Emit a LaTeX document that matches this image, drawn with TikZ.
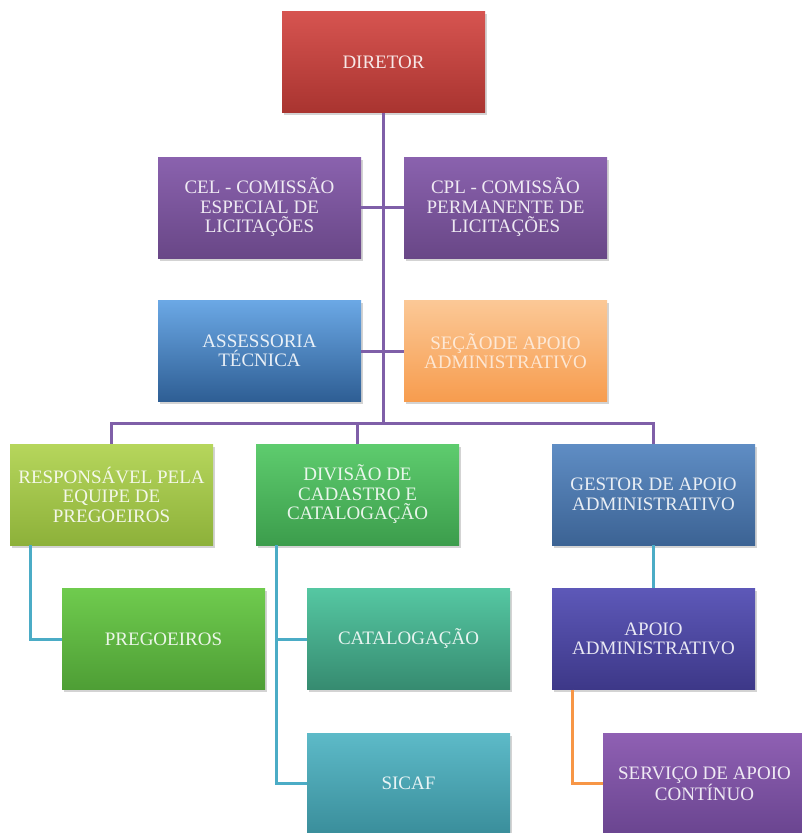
\documentclass[tikz,border=0pt]{standalone}
\usepackage{fontspec}
\setmainfont{Liberation Serif}
\usetikzlibrary{shadows}

\definecolor{linharoxa}{HTML}{7F5FA8}
\definecolor{linhaazul}{HTML}{4BACC6}
\definecolor{linhalaranja}{HTML}{F79646}
% cores das caixas (cima / baixo)
\definecolor{dirA}{HTML}{D65450}   \definecolor{dirB}{HTML}{A93430}
\definecolor{roxoA}{HTML}{8A62AE}  \definecolor{roxoB}{HTML}{694787}
\definecolor{asseA}{HTML}{6BA8E5}  \definecolor{asseB}{HTML}{2E5E94}
\definecolor{secA}{HTML}{FBC896}   \definecolor{secB}{HTML}{F79C4E}
\definecolor{respA}{HTML}{B6D65C}  \definecolor{respB}{HTML}{8DB13A}
\definecolor{divA}{HTML}{5ECC6E}   \definecolor{divB}{HTML}{3C9D4C}
\definecolor{gestA}{HTML}{5F8DC4}  \definecolor{gestB}{HTML}{3C6394}
\definecolor{pregA}{HTML}{6FCB4E}  \definecolor{pregB}{HTML}{4E9E35}
\definecolor{catA}{HTML}{55C7A2}   \definecolor{catB}{HTML}{368B70}
\definecolor{apoA}{HTML}{5D58B8}   \definecolor{apoB}{HTML}{3D3888}
\definecolor{sicA}{HTML}{5DBAC8}   \definecolor{sicB}{HTML}{3A8E9B}
\definecolor{servA}{HTML}{8F60B3}  \definecolor{servB}{HTML}{6A4590}

\tikzstyle{cargo}=[rectangle, minimum width=203pt, minimum height=101pt, inner sep=4pt, align=center,
  text=white, text opacity=0.88, font=\fontsize{19}{19.5}\selectfont,
  drop shadow={opacity=0.35, shadow xshift=1.5pt, shadow yshift=-2.5pt}]
\tikzstyle{liga}=[draw=linharoxa, line width=3pt]
\tikzstyle{ligaazul}=[draw=linhaazul, line width=3pt]
\tikzstyle{ligalaranja}=[draw=linhalaranja, line width=3pt]

\begin{document}
\begin{tikzpicture}[x=1pt, y=-1pt]
\useasboundingbox (0,0) rectangle (802,833);
% topo
\node[cargo, top color=dirA, bottom color=dirB] (dir) at (383.5,62) {DIRETOR};
\node[cargo, top color=roxoA, bottom color=roxoB] (cel) at (259.5,207.5) {CEL - COMISSÃO\\ESPECIAL DE\\LICITAÇÕES};
\node[cargo, top color=roxoA, bottom color=roxoB] (cpl) at (505.5,207.5) {CPL - COMISSÃO\\PERMANENTE DE\\LICITAÇÕES};
\node[cargo, top color=asseA, bottom color=asseB] (asse) at (259.5,351) {ASSESSORIA\\TÉCNICA};
\node[cargo, top color=secA, bottom color=secB, text opacity=0.7] (secao) at (505.5,351) {SEÇÃODE APOIO\\ADMINISTRATIVO};
% divisoes
\node[cargo, top color=respA, bottom color=respB] (resp) at (111.5,494.5) {RESPONSÁVEL PELA\\EQUIPE DE\\PREGOEIROS};
\node[cargo, top color=divA, bottom color=divB] (div) at (357.5,494.5) {DIVISÃO DE\\CADASTRO E\\CATALOGAÇÃO};
\node[cargo, top color=gestA, bottom color=gestB] (gest) at (653.5,494.5) {GESTOR DE APOIO\\ADMINISTRATIVO};
% nivel de baixo
\node[cargo, top color=pregA, bottom color=pregB] (preg) at (163.5,639) {PREGOEIROS};
\node[cargo, top color=catA, bottom color=catB] (catal) at (408.5,639) {CATALOGAÇÃO};
\node[cargo, top color=apoA, bottom color=apoB] (apoio) at (653.5,639) {APOIO\\ADMINISTRATIVO};
\node[cargo, top color=sicA, bottom color=sicB] (sicaf) at (408.5,783.5) {SICAF};
\node[cargo, top color=servA, bottom color=servB] (serv) at (704.5,783.5) {SERVIÇO DE APOIO\\CONTÍNUO};
% ligacoes
\coordinate (barra) at (383.5,423);
\draw[liga] (dir.south) -- (barra);
\draw[liga] (cel.east) -- (cpl.west);
\draw[liga] (asse.east) -- (secao.west);
\draw[liga] (resp.north) |- (barra) -| (gest.north);
\draw[liga] (div.north) -- (div.north |- barra);
\draw[ligaazul] ([xshift=-81pt]resp.south) |- (preg.west);
\draw[ligaazul] ([xshift=-81pt]div.south) |- (catal.west);
\draw[ligaazul] ([xshift=-81pt]div.south) |- (sicaf.west);
\draw[ligaazul] (gest.south) -- (apoio.north);
\draw[ligalaranja] ([xshift=-81pt]apoio.south) |- (serv.west);
\end{tikzpicture}
\end{document}
